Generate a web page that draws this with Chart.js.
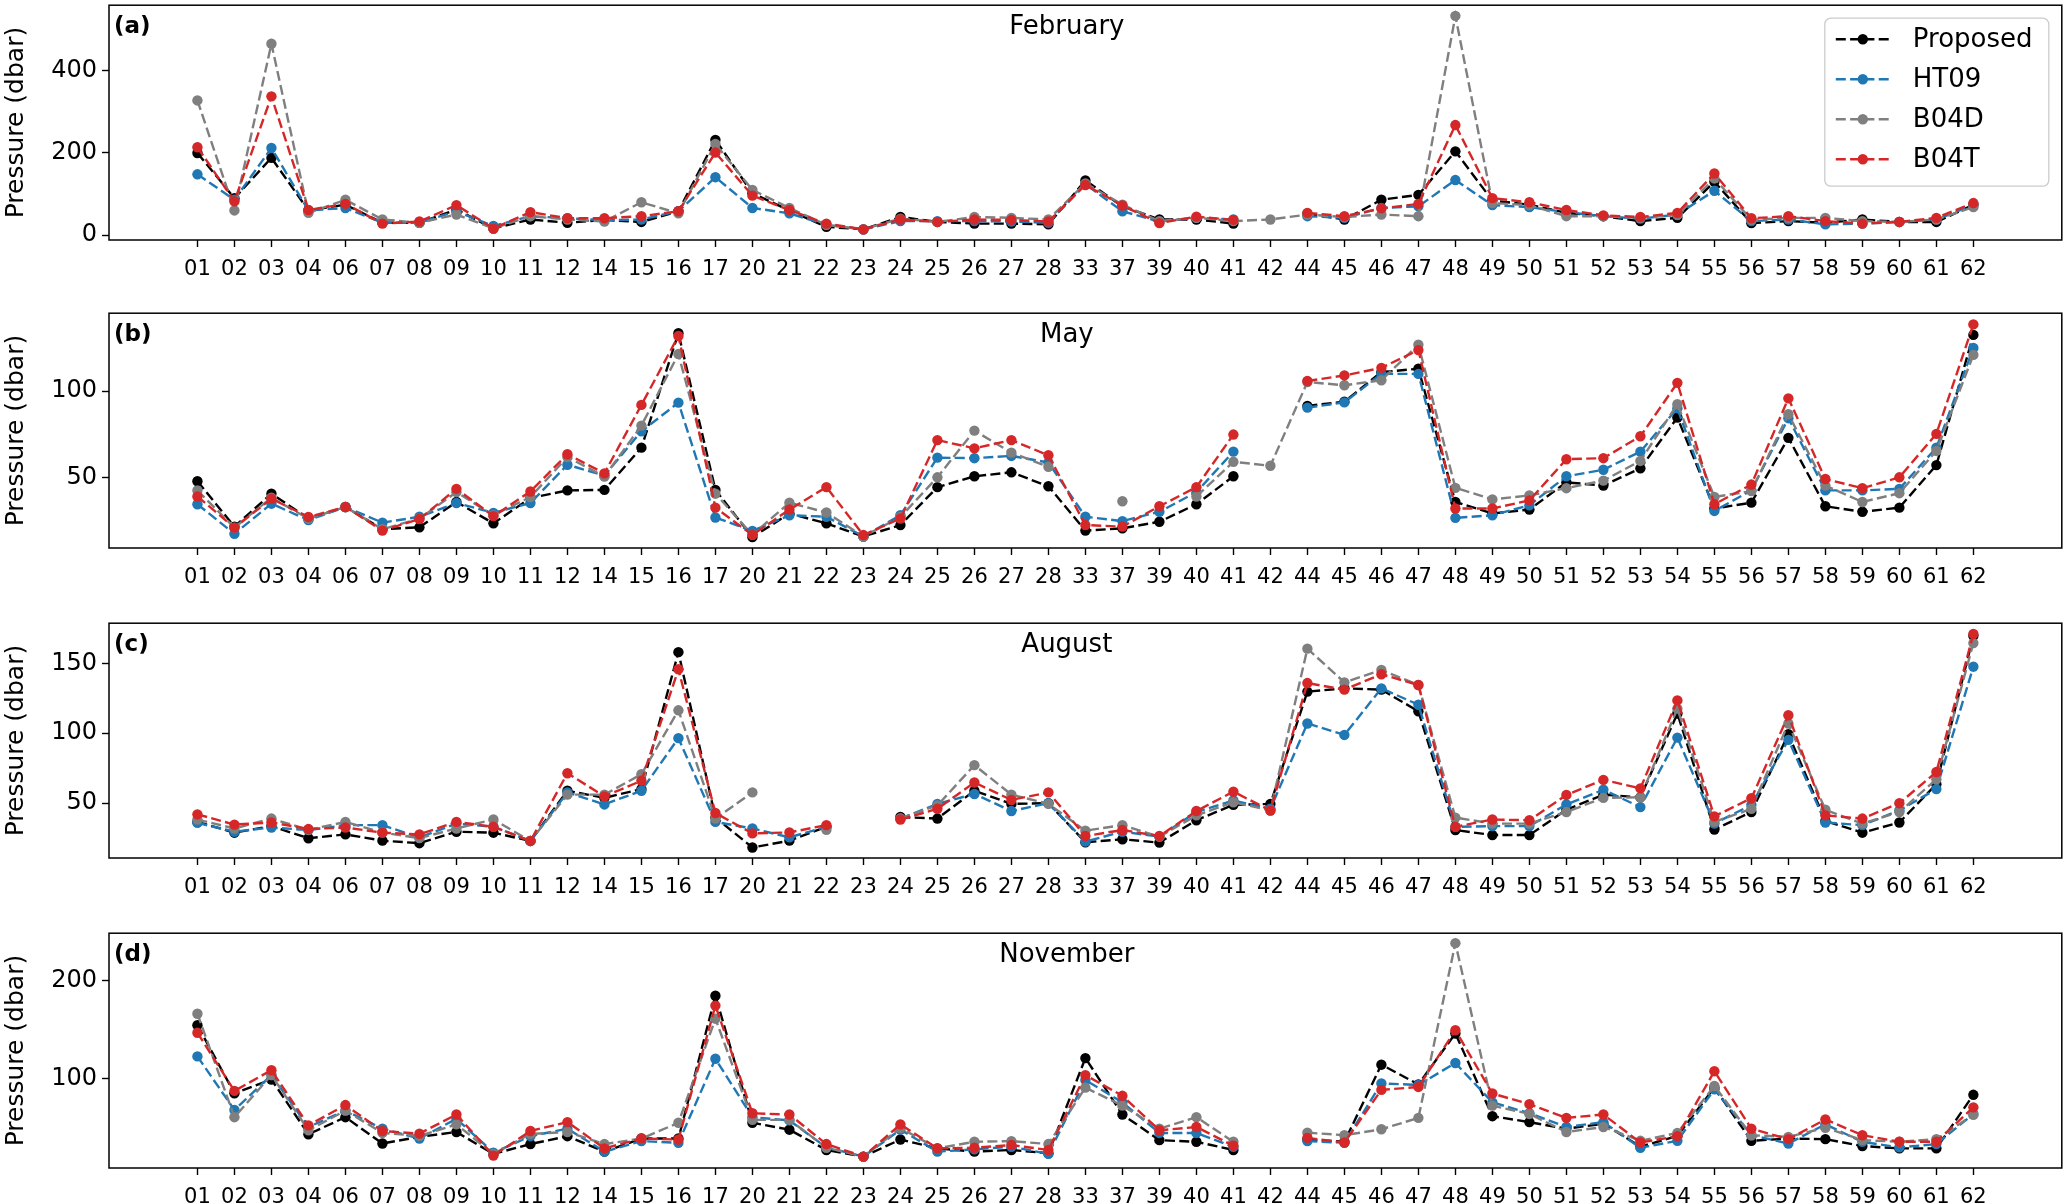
<!DOCTYPE html>
<html><head><meta charset="utf-8">
<script src="https://cdn.jsdelivr.net/npm/chart.js@4.4.1/dist/chart.umd.min.js"></script>
<style>
html,body{margin:0;padding:0;background:#fff;}
body{width:2067px;height:1204px;position:relative;overflow:hidden;}
.p{position:absolute;left:0;width:2067px;height:300px;}
</style></head>
<body>
<div class="p" style="top:0px"><canvas id="c0"></canvas></div>
<div class="p" style="top:308px"><canvas id="c1"></canvas></div>
<div class="p" style="top:618px"><canvas id="c2"></canvas></div>
<div class="p" style="top:928px"><canvas id="c3"></canvas></div>
<script>
const categories = ['01','02','03','04','06','07','08','09','10','11','12','14','15','16','17','20','21','22','23','24','25','26','27','28','33','37','39','40','41','42','44','45','46','47','48','49','50','51','52','53','54','55','56','57','58','59','60','61','62'];
const seriesNames = ['Proposed','HT09','B04D','B04T'];
const months = ['February','May','August','November'];
const panelLabels = ['(a)','(b)','(c)','(d)'];

// February
const febProposed = [200,90,188,60,74,30,30,62,16,38,30,37,32,58,232,102,60,20,14,44,32,28,28,26,133,70,38,38,28,null,52,38,86,98,204,84,74,54,46,34,42,130,29,34,30,38,32,32,74];
const febHT09     = [148,86,212,60,66,30,30,58,22,46,41,36,38,58,141,66,53,25,14,34,34,34,33,30,124,58,33,42,38,null,46,42,66,70,134,73,68,56,46,40,50,108,34,38,26,28,32,38,73];
const febB04D     = [328,60,466,54,86,38,30,50,16,46,38,33,80,53,222,110,66,25,14,40,32,44,42,38,126,74,34,42,34,38,50,44,50,46,534,78,73,46,46,42,49,138,37,42,42,34,32,38,68];
const febB04T     = [214,82,338,61,76,28,33,73,16,56,41,41,46,58,201,96,61,28,14,38,32,38,37,33,122,72,29,45,37,null,54,46,65,76,268,90,80,61,48,44,54,150,41,46,34,28,32,42,78];

// May
const mayProposed = [47.7,21.4,40.5,26.1,32.8,19.9,21,35.7,23.3,38,42.4,42.7,67.2,133.6,42.7,15.3,29,23.3,15.7,22.3,44.3,50.6,52.9,44.8,19.1,20.4,24.2,34.4,50.6,null,91.4,93.9,111,113,35.7,29,31.3,47.1,45.2,55.2,84.7,31.9,35.3,72.9,33.2,30,32.4,57.1,132.6];
const mayHT09     = [34.4,17.2,34.7,25.2,32.8,23.7,27.1,35.1,29.4,35.1,57.3,51,76.7,93.3,26.7,18.9,28,27.1,15.7,28,61.4,61.1,62.4,58.6,27.1,24.6,30,41.4,64.9,null,90.4,93.5,110,110,26.5,28,33.8,50.6,54.4,64.9,90.1,30.5,42.4,84.3,42.4,42.4,43.3,67.2,125];
const mayB04D     = [42.4,20.8,38.2,26,32.8,19.9,26,41.4,28,38.6,61.8,50.4,80,121.5,40.5,16.6,35.3,29.6,15.7,27,50,77.1,64.3,56.1,null,36.1,null,38.9,59,56.7,105.3,103.4,106.3,126.9,43.9,37.2,39.5,43.7,48.1,59.5,92.4,38.6,42,86.6,45.2,35.7,40.8,65.3,121];
const mayB04T     = [38.9,20.8,37.6,27,32.8,19.1,25.8,43.3,27.5,41.8,63.4,52.3,92,132,32.4,16.6,31.3,44.3,16.5,26.1,71.6,66.8,71.6,62.8,22.3,21.4,33.2,44.3,74.8,null,105.9,109.1,113.5,123.8,31.9,31.9,36.6,60.5,61.1,73.8,104.8,34.4,45.8,95.8,49,43.7,50,75.2,138.7];

// August
const augProposed = [36.6,28.9,33.6,24.9,27.7,23.2,21.4,29.6,28.9,23,58.9,53.8,60.1,158,39.7,18.3,23.2,33.1,null,40.1,39,58.9,49.5,50,22,24.2,21.8,37.8,48.8,49.5,129.8,132.1,131.2,115.7,30.8,27.2,27.2,45.3,56.1,54.2,114.1,31.2,43.7,99.3,37.3,28.9,36.2,63.6,169.7];
const augHT09     = [35.9,29.6,32.6,30.8,34.3,34.3,25.4,35.4,33.1,23,57.7,49.1,58.9,96.5,36.6,31.9,25.6,33.1,null,39,49.5,56.6,44.4,50,22.5,29.6,26.1,43.7,51.9,46,107,98.8,132.1,120.4,33.1,33.6,33.6,49.1,59.6,47.2,96.9,35.4,48.8,95.3,36.2,34.3,44.8,60.1,147.6];
const augB04D     = [38.3,31.9,39,31,36.6,29,25,31.9,38.3,23,56.1,56.1,70.7,116.4,39,57.7,null,31,null,39,48.4,77.2,56.1,49.5,30.3,34.3,26.1,41.3,50.7,44.8,160.5,136.4,145.3,134.5,39.7,35.4,35.4,43.7,53.8,54.2,117.6,36.6,46,107,45.3,35.4,43.7,67.1,164.5];
const augB04T     = [42,34.7,36.2,31.5,32.6,28.9,27.7,36.6,33.1,23,71.4,54.9,66,145.8,43,28.4,29.1,34.3,null,38.3,46,64.8,52.3,57.7,26.5,30.8,26.5,44.4,58.2,44.8,135.9,131.2,142.2,134.5,33.1,38.3,37.8,55.9,66.7,60.6,123.5,40.6,53.5,112.9,41.3,39,50,72.3,171];

// November
const novProposed = [154.3,85.3,99.3,43.7,61,34.3,41,46,23.7,33.7,41.7,26,39.3,39.3,184.3,55.3,48.3,27.7,21,38.3,29.3,26,27.7,24.3,121,63.7,37.7,36,27.7,null,38.3,36,114.3,94.3,146,62,56,49.3,54.3,31,42,91,37,39.3,38.7,31.7,29.3,29.3,83.7];
const novHT09     = [122.7,68.3,103.7,51,67.7,49.3,39.3,59.3,25,41.7,49.3,26,36.7,35,120.3,61,57.7,30.3,21,48.3,26,28.3,31,23.7,98.7,76,45,45,31,null,36.7,35,95.3,93.7,116,76,65,51,56,30,37,89.3,42.7,34.3,53.7,36,30.3,33.7,64.3];
const novB04D     = [166,61,103.7,47.7,67.7,45,42,53.7,23.7,44,46,33.7,39.3,55.3,161,58.3,58.3,30,21,50,29.3,36,36.7,33.7,91,72.7,49.3,61,36,null,45.3,42.7,48.7,60.3,237.7,72.7,64.3,46,51,37,45,92.7,42.7,41,50.3,37.7,36,38.7,63.3];
const novB04T     = [146.7,87.7,108.7,52.7,73.3,47,44.3,63.7,22,47,56,29.3,39.3,38.3,174.3,65,63.7,33.7,21,53.7,29.3,30,32.7,27.7,103.7,82.7,47.7,51,32,null,40,35.3,88.7,91.7,149.3,85,74.3,60.3,63.7,35.3,41.7,107.7,49.3,38.7,58.7,42.7,36,36,71];

const febTicks = [0,200,400];
const mayTicks = [50,100];
const augTicks = [50,100,150];
const novTicks = [100,200];

const colors = ['#000000','#1f77b4','#7f7f7f','#d62728'];
const FONT = 'DejaVu Sans';
Chart.defaults.font.family = FONT;

const panels = [
  {id:'c0', series:[febProposed,febHT09,febB04D,febB04T], ymin:-12, ymax:560, ticks:febTicks, legend:true},
  {id:'c1', series:[mayProposed,mayHT09,mayB04D,mayB04T], ymin:9, ymax:145.2, ticks:mayTicks, legend:false},
  {id:'c2', series:[augProposed,augHT09,augB04D,augB04T], ymin:10.8, ymax:178.7, ticks:augTicks, legend:false},
  {id:'c3', series:[novProposed,novHT09,novB04D,novB04T], ymin:9.4, ymax:247.8, ticks:novTicks, legend:false}
];

const LW = 2.4, DASH = [10, 4.3], PR = 5.2;

const deco = {
  id: 'deco',
  afterDraw(chart, args, o) {
    const a = chart.chartArea, c = chart.ctx;
    c.save();
    c.strokeStyle = '#000'; c.lineWidth = 1.5; c.setLineDash([]);
    c.strokeRect(a.left, a.top, a.right - a.left, a.bottom - a.top);
    c.fillStyle = '#000';
    c.font = '26px "' + FONT + '"';
    c.textAlign = 'center'; c.textBaseline = 'alphabetic';
    c.fillText(o.title, a.left + 0.4905 * (a.right - a.left), a.top + 29);
    c.font = 'bold 23px "' + FONT + '"';
    c.textAlign = 'left';
    c.fillText(o.label, a.left + 5, a.top + 28);
    c.font = '25px "' + FONT + '"';
    c.translate(16, (a.top + a.bottom) / 2);
    c.rotate(-Math.PI / 2);
    c.textAlign = 'center'; c.textBaseline = 'middle';
    c.fillText('Pressure (dbar)', 0, 0);
    c.restore();
    if (o.legend) {
      c.save();
      const bw = 224, bh = 168;
      const bx = a.right - 13 - bw, by = a.top + 13;
      c.beginPath();
      c.roundRect(bx, by, bw, bh, 6);
      c.fillStyle = 'rgba(255,255,255,0.8)'; c.fill();
      c.strokeStyle = '#cccccc'; c.lineWidth = 1.3; c.stroke();
      seriesNames.forEach((n, k) => {
        const y = by + 21 + 40 * k;
        c.beginPath();
        c.setLineDash(DASH);
        c.strokeStyle = colors[k]; c.lineWidth = LW;
        c.moveTo(bx + 11, y); c.lineTo(bx + 65, y); c.stroke();
        c.setLineDash([]);
        c.beginPath(); c.fillStyle = colors[k];
        c.arc(bx + 38, y, PR, 0, Math.PI * 2); c.fill();
        c.fillStyle = '#000'; c.font = '26px "' + FONT + '"';
        c.textAlign = 'left'; c.textBaseline = 'middle';
        c.fillText(n, bx + 88, y + 1);
      });
      c.restore();
    }
  }
};

panels.forEach((p, pi) => {
  const ctx = document.getElementById(p.id);
  new Chart(ctx, {
    type: 'line',
    data: {
      datasets: seriesNames.map((n, k) => ({
        label: n,
        data: p.series[k].map((v, i) => ({x: i, y: v})),
        borderColor: colors[k], backgroundColor: colors[k],
        pointBackgroundColor: colors[k], pointBorderColor: colors[k],
        pointBorderWidth: 0, pointRadius: PR, pointHoverRadius: PR,
        borderWidth: LW, borderDash: DASH, fill: false, tension: 0,
        spanGaps: false, order: 4 - k
      }))
    },
    options: {
      animation: false, responsive: true, maintainAspectRatio: false,
      layout: {padding: {top: 2, right: 3, left: 0, bottom: 10}},
      plugins: {
        legend: {display: false}, tooltip: {enabled: false},
        deco: {title: months[pi], label: panelLabels[pi], legend: p.legend}
      },
      scales: {
        x: {
          type: 'linear', min: -2.39, max: 50.39,
          afterBuildTicks: s => { s.ticks = categories.map((c, i) => ({value: i})); },
          afterFit: s => { s.height = 50; s.paddingLeft = 0; s.paddingRight = 0; },
          ticks: {autoSkip: false, maxRotation: 0, minRotation: 0, color: '#000',
                  font: {family: FONT, size: 21}, padding: 10,
                  callback: (v) => categories[v]},
          grid: {drawOnChartArea: false, drawTicks: true, tickLength: 7, tickWidth: 1.4, tickColor: '#000'},
          border: {display: false}
        },
        y: {
          min: p.ymin, max: p.ymax,
          afterBuildTicks: s => { s.ticks = p.ticks.map(v => ({value: v})); },
          afterFit: s => { s.width = 109; s.paddingTop = 0; s.paddingBottom = 0; },
          ticks: {color: '#000', font: {family: FONT, size: 24}, padding: 5,
                  callback: v => String(v)},
          grid: {drawOnChartArea: false, drawTicks: true, tickLength: 7, tickWidth: 1.4, tickColor: '#000'},
          border: {display: false}
        }
      }
    },
    plugins: [deco]
  });
});
</script>
</body></html>
